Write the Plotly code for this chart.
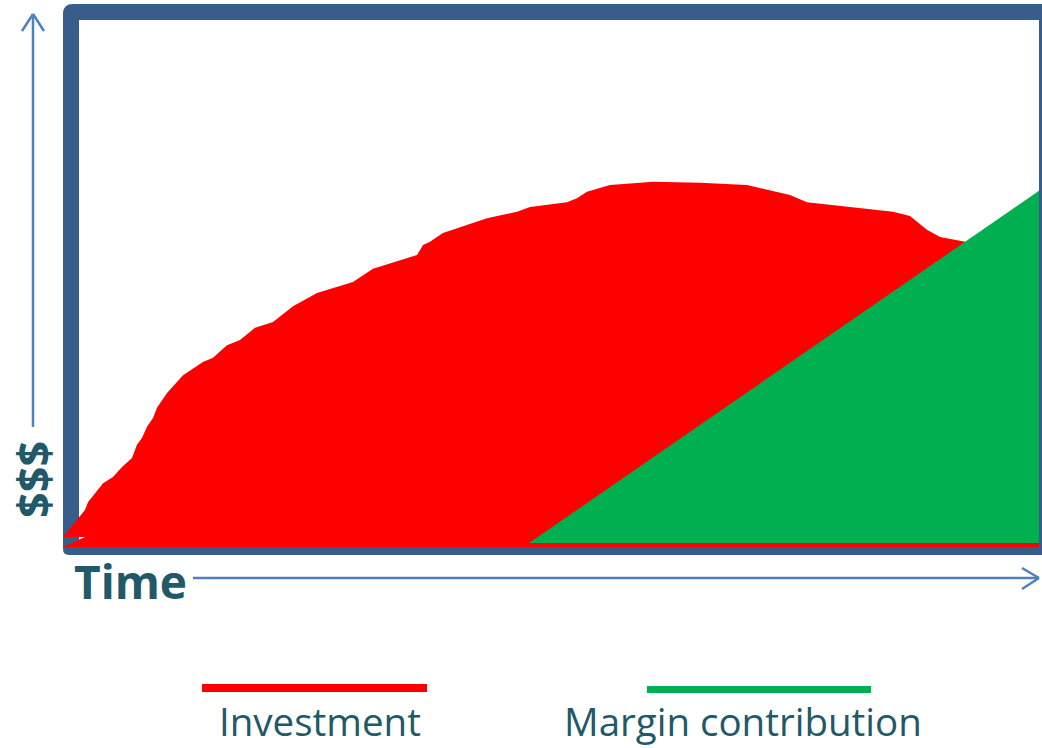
import plotly.graph_objects as go

# ---------------- data ----------------
# Investment area (time 0..100, $ 0..100), outline of the red region
investment_time = [0, 2.25, 0, 2.25, 2.56, 4.10, 5.12, 6.05, 7.07, 7.58, 8.09, 8.61, 9.22, 9.63,
                   10.66, 12.30, 14.34, 15.37, 16.80, 18.14, 19.67, 21.52, 23.57, 26.02, 29.71,
                   31.76, 36.27, 36.89, 37.60, 38.93, 43.44, 46.52, 47.85, 51.64, 52.66, 53.69,
                   56.05, 60.45, 65.27, 70.08, 74.49, 76.23, 80.64, 85.04, 86.78, 88.52, 89.86,
                   92.42, 96.0, 100, 100]
investment_value = [0, 1.9, 1.9, 7.0, 8.5, 12.1, 13.3, 15.2, 16.9, 19.4, 20.7, 22.8, 24.5, 26.4,
                    29.2, 32.6, 35.1, 35.9, 38.3, 39.3, 41.6, 42.7, 45.7, 48.2, 50.3,
                    52.8, 55.4, 57.3, 57.9, 59.6, 62.4, 63.6, 64.5, 65.4, 66.2, 67.4,
                    68.7, 69.3, 69.1, 68.7, 66.8, 65.4, 64.5, 63.6, 62.8, 60.2, 58.8,
                    57.9, 56.7, 56.0, 0]

# Margin contribution area
margin_time = [47.75, 100, 100]
margin_value = [0.76, 67.6, 0.76]

series_names = ["Investment", "Margin contribution"]
series_colors = ["#FF0000", "#00B050"]
axis_titles = {"x": "Time", "y": "$$$"}

# ---------------- layout helpers (pixel -> paper) ----------------
W, H = 1042, 748
L, R, T, B = 63, 3, 20, 201
PW = W - L - R
PH = H - T - B


def px(x):
    return (x - L) / PW


def py(y):
    return (H - B - y) / PH


def pt(x, y):
    return f"{px(x):.5f},{py(y):.5f}"


fig = go.Figure()
fig.add_trace(go.Scatter(x=investment_time, y=investment_value, fill="toself", mode="lines",
                         fillcolor=series_colors[0], line=dict(width=0, color=series_colors[0]),
                         name=series_names[0], hoverinfo="skip", showlegend=False))
fig.add_trace(go.Scatter(x=margin_time, y=margin_value, fill="toself", mode="lines",
                         fillcolor=series_colors[1], line=dict(width=0, color=series_colors[1]),
                         name=series_names[1], hoverinfo="skip", showlegend=False))

frame_color = "#385D8A"
arrow_color = "#4F81BD"
text_color = "#215968"

# thick frame (outer rounded rect minus inner rect)
r1, r2 = 10, 6
outer = (f"M {pt(63 + r1, 4)} L {pt(1060, 4)} L {pt(1060, 555)} L {pt(63 + r2, 555)} "
         f"Q {pt(63, 555)} {pt(63, 555 - r2)} L {pt(63, 4 + r1)} Q {pt(63, 4)} {pt(63 + r1, 4)} Z")
inner = f"M {pt(79, 20)} L {pt(79, 547)} L {pt(1039, 547)} L {pt(1039, 20)} Z"
shapes = [dict(type="path", path=outer + " " + inner, xref="paper", yref="paper",
               fillcolor=frame_color, line=dict(width=0), layer="below")]


def seg(x0, y0, x1, y1, color, width):
    return dict(type="line", xref="paper", yref="paper", x0=px(x0), y0=py(y0), x1=px(x1), y1=py(y1),
                line=dict(color=color, width=width), layer="above")


# y arrow
shapes += [seg(33, 427, 33, 14, arrow_color, 2.5),
           seg(22, 31, 33, 14, arrow_color, 2.5),
           seg(44, 31, 33, 14, arrow_color, 2.5)]
# x arrow
shapes += [seg(193, 578, 1039, 578, arrow_color, 2.5),
           seg(1022, 568, 1039, 578, arrow_color, 2.5),
           seg(1022, 589, 1039, 578, arrow_color, 2.5)]
# legend lines
shapes += [seg(202, 688, 427, 688, series_colors[0], 8),
           seg(647, 689.5, 871, 689.5, series_colors[1], 7)]

annotations = [
    dict(text=f"<b>{axis_titles['y']}</b>", textangle=-90, x=px(33), y=py(480), xref="paper", yref="paper",
         xanchor="center", yanchor="middle", showarrow=False,
         font=dict(family="Open Sans", size=45, color=text_color)),
    dict(text=f"<b>{axis_titles['x']}</b>", x=px(72), y=py(548), xref="paper", yref="paper",
         xanchor="left", yanchor="top", showarrow=False,
         font=dict(family="Open Sans", size=46, color=text_color)),
    dict(text=series_names[0], x=px(320), y=py(693), xref="paper", yref="paper",
         xanchor="center", yanchor="top", showarrow=False,
         font=dict(family="Open Sans", size=38.5, color=text_color)),
    dict(text=series_names[1], x=px(743), y=py(693), xref="paper", yref="paper",
         xanchor="center", yanchor="top", showarrow=False,
         font=dict(family="Open Sans", size=38.5, color=text_color)),
]

fig.update_layout(
    width=W, height=H, autosize=False,
    margin=dict(l=L, r=R, t=T, b=B, pad=0),
    paper_bgcolor="white", plot_bgcolor="rgba(0,0,0,0)",
    xaxis=dict(range=[0, 100], visible=False, showgrid=False, zeroline=False, fixedrange=True),
    yaxis=dict(range=[0, 100], visible=False, showgrid=False, zeroline=False, fixedrange=True),
    shapes=shapes, annotations=annotations, showlegend=False, hovermode=False,
)

fig.write_html("out.html")
